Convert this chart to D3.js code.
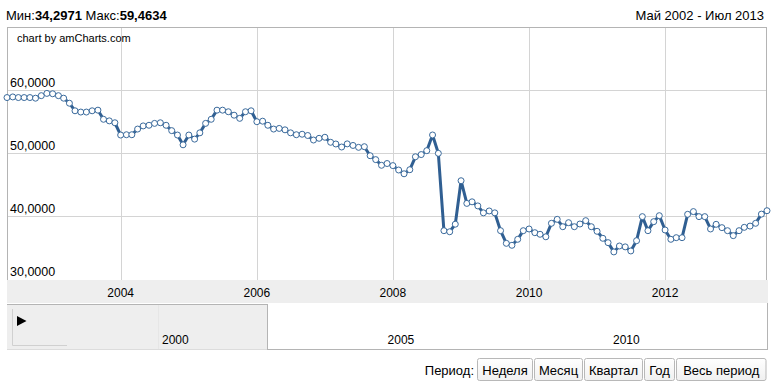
<!DOCTYPE html>
<html><head><meta charset="utf-8">
<script src="https://cdn.jsdelivr.net/npm/d3@7"></script>
<style>
body{margin:0;background:#fff;}
svg{display:block;font-family:"Liberation Sans",Arial,sans-serif;}
</style></head>
<body><svg id="c" width="776" height="385"></svg>
<script>
// ---- data ----
const startMonth = "2002-05";
const endMonth = "2013-07";
const values = [
 58.8, 58.9, 58.8, 58.8, 58.8, 58.7, 59.1, 59.46, 59.4, 59.1,
 58.7, 57.9, 56.7, 56.5, 56.5, 56.7, 56.8, 55.35, 55.1, 54.8,
 52.85, 52.9, 52.9, 53.8, 54.3, 54.4, 54.7,
 54.8, 54.4, 53.55, 52.85, 51.3, 52.85, 52.2, 53.2, 54.7, 55.35,
 56.8, 56.8, 56.55, 56.0, 55.5, 56.55, 56.7, 54.97, 55.05, 54.4,
 53.8, 53.9, 53.68, 53.2, 52.9, 52.98,
 52.78, 52.06, 52.33, 52.5, 51.7, 51.43, 50.95, 51.45, 51.2, 50.9,
 51.0, 49.57, 48.95, 48.05, 48.33, 48.0, 47.3, 46.7, 47.35, 49.4,
 49.75, 50.37, 52.86, 49.95, 37.67, 37.5,
 38.7, 45.6, 42.0, 42.25, 41.6, 40.5, 40.8, 40.5, 37.67, 35.66,
 35.35, 36.3, 37.67, 37.94, 37.35, 37.1, 36.7, 38.84, 39.47, 38.3,
 38.94, 38.3, 38.73, 39.26, 38.3, 37.57, 36.46, 35.77,
 34.3, 35.24, 35.1, 34.45, 36.08, 39.9, 37.67, 39.1, 40.05, 37.78,
 36.3, 36.56, 36.56, 40.27, 40.7, 39.9, 39.9, 37.94, 38.68, 38.15,
 37.67, 36.88, 37.67, 38.2, 38.4, 38.84, 40.3, 40.84
];
const yTicks = [30, 40, 50, 60];
const yTickLabels = ["30,0000", "40,0000", "50,0000", "60,0000"];
const xTickYears = [2004, 2006, 2008, 2010, 2012];
const scrollYears = [2000, 2005, 2010];
const periodButtons = ["Неделя", "Месяц", "Квартал", "Год", "Весь период"];
const minText = "34,2971", maxText = "59,4634";
const rangeText = "Май 2002 - Июл 2013";

// ---- build ----
const parse = d3.timeParse("%Y-%m");
const months = d3.timeMonth.range(parse(startMonth), d3.timeMonth.offset(parse(endMonth), 1));
const data = months.map((d, i) => ({date: d, v: values[i]}));

const svg = d3.select("#c");
const L = 7, R = 767, T = 27, B = 279;
const x = d3.scaleTime().domain([parse(startMonth), parse(endMonth)]).range([L, R]);
const y = d3.scaleLinear().domain([30, 70]).range([B, T]);

// header
const h = svg.append("text").attr("x", 6).attr("y", 20).attr("font-size", 13).attr("fill", "#000");
h.append("tspan").text("Мин:");
h.append("tspan").attr("font-weight", "bold").text(minText);
h.append("tspan").text(" Макс:");
h.append("tspan").attr("font-weight", "bold").text(maxText);
svg.append("text").attr("x", 764).attr("y", 20).attr("text-anchor", "end")
  .attr("font-size", 13).attr("fill", "#000").text(rangeText);

// plot frame
svg.append("rect").attr("x", L + 0.5).attr("y", T + 0.5).attr("width", R - L - 1).attr("height", B - T + 1)
  .attr("fill", "#fff").attr("stroke", "#b4b4b4");

// grid
const grid = svg.append("g").attr("stroke", "#d4d4d4").attr("stroke-width", 1);
yTicks.filter(t => t > 30).forEach(t => {
  grid.append("line").attr("x1", L + 1).attr("x2", R - 1)
    .attr("y1", Math.round(y(t)) + 0.5).attr("y2", Math.round(y(t)) + 0.5);
});
xTickYears.forEach(yr => {
  const xx = Math.round(x(new Date(yr, 0, 1))) + 0.5;
  grid.append("line").attr("x1", xx).attr("x2", xx).attr("y1", T + 1).attr("y2", B + 1);
});

// amCharts credit
svg.append("text").attr("x", 17).attr("y", 42).attr("font-size", 11).attr("fill", "#000")
  .text("chart by amCharts.com");

// y labels
yTicks.forEach((t, i) => {
  svg.append("text").attr("x", 10).attr("y", y(t) - 3).attr("font-size", 12.5).attr("fill", "#000")
    .text(yTickLabels[i]);
});

// line
const line = d3.line().x(d => x(d.date)).y(d => y(d.v));
svg.append("path").datum(data).attr("d", line).attr("fill", "none")
  .attr("stroke", "#305f92").attr("stroke-width", 3).attr("stroke-linejoin", "round");
svg.append("g").selectAll("circle").data(data).join("circle")
  .attr("cx", d => x(d.date)).attr("cy", d => y(d.v)).attr("r", 3)
  .attr("fill", "#fff").attr("stroke", "#3a6a9c").attr("stroke-width", 1);

// x axis band
svg.append("rect").attr("x", L).attr("y", 280).attr("width", R - L + 1).attr("height", 23).attr("fill", "#eeeeee");
xTickYears.forEach(yr => {
  svg.append("text").attr("x", x(new Date(yr, 0, 1))).attr("y", 297).attr("text-anchor", "middle")
    .attr("font-size", 12).attr("fill", "#000").text(yr);
});

// scroller
const sx = d3.scaleTime().domain([new Date(2000, 0, 1), new Date(2010, 0, 1)]).range([159, 610]);
svg.append("rect").attr("x", L).attr("y", 304).attr("width", 260).attr("height", 45).attr("fill", "#eeeeee");
svg.append("line").attr("x1", L).attr("x2", 267.5).attr("y1", 304.5).attr("y2", 304.5).attr("stroke", "#b4b4b4");
svg.append("line").attr("x1", 267.5).attr("x2", 267.5).attr("y1", 304).attr("y2", 349).attr("stroke", "#b4b4b4");
svg.append("line").attr("x1", 158.5).attr("x2", 158.5).attr("y1", 305).attr("y2", 349).attr("stroke", "#e6e6e6");
svg.append("line").attr("x1", 267).attr("x2", R + 0.5).attr("y1", 349.5).attr("y2", 349.5).attr("stroke", "#b4b4b4");
svg.append("line").attr("x1", R + 0.5).attr("x2", R + 0.5).attr("y1", 303).attr("y2", 350).attr("stroke", "#b4b4b4");
svg.append("line").attr("x1", L).attr("x2", 267).attr("y1", 349.5).attr("y2", 349.5).attr("stroke", "#dcdcdc");
svg.append("path").attr("d", "M12.5,309 V345.5 H67").attr("fill", "none").attr("stroke", "#d0d0d0");
svg.append("path").attr("d", "M17,316 L26.5,321 L17,326 Z").attr("fill", "#000");
scrollYears.forEach(yr => {
  svg.append("text").attr("x", sx(new Date(yr, 0, 1)) + 3).attr("y", 344).attr("font-size", 12)
    .attr("fill", "#000").text(yr);
});

// period buttons
svg.append("text").attr("x", 474).attr("y", 375).attr("text-anchor", "end").attr("font-size", 13)
  .attr("fill", "#000").text("Период:");
const defs = svg.append("defs");
const g = defs.append("linearGradient").attr("id", "bg").attr("x1", 0).attr("x2", 0).attr("y1", 0).attr("y2", 1);
g.append("stop").attr("offset", "0").attr("stop-color", "#ffffff");
g.append("stop").attr("offset", "1").attr("stop-color", "#f0f0f0");
const btnBox = [[477.5, 55], [534.5, 48], [584.5, 58], [644.5, 30], [676.5, 89.5]];
const bg = svg.append("g");
periodButtons.forEach((lbl, i) => {
  const [bx, w] = btnBox[i];
  bg.append("rect").attr("x", bx).attr("y", 358.5).attr("width", w).attr("height", 22)
    .attr("rx", 2).attr("fill", "url(#bg)").attr("stroke", "#b8b8b8");
  bg.append("text").attr("x", bx + w / 2).attr("y", 375).attr("text-anchor", "middle")
    .attr("font-size", 13).attr("fill", "#000").text(lbl);
});
</script></body></html>
